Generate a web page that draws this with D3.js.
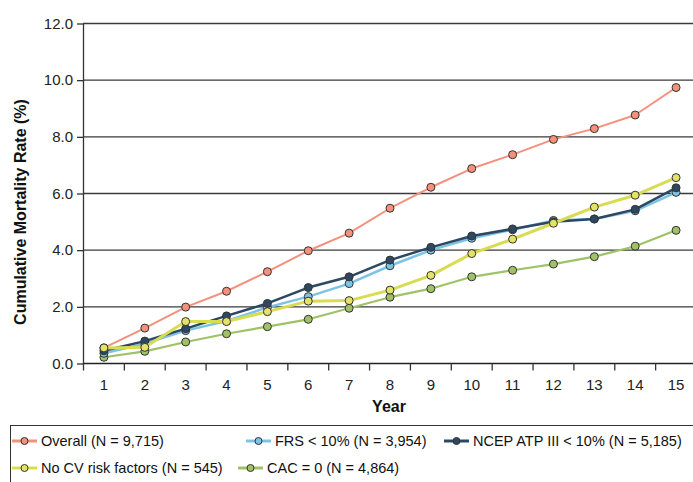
<!DOCTYPE html>
<html><head><meta charset="utf-8">
<script src="https://cdn.jsdelivr.net/npm/d3@7"></script>
<style>body{margin:0;background:#fff}svg{display:block;font-family:"Liberation Sans",Arial,sans-serif}</style>
</head><body><svg id="c" width="693" height="482"></svg>
<script>
const years = [1,2,3,4,5,6,7,8,9,10,11,12,13,14,15];
const yTicks = [0,2,4,6,8,10,12];
const overall = [0.55,1.25,1.99,2.55,3.24,3.98,4.6,5.48,6.22,6.88,7.37,7.91,8.29,8.77,9.74];
const frs = [0.36,0.7,1.16,1.5,1.98,2.36,2.82,3.45,4.0,4.42,4.72,5.05,5.1,5.39,6.04];
const ncep = [0.45,0.79,1.23,1.68,2.12,2.68,3.06,3.65,4.1,4.5,4.75,5.0,5.1,5.44,6.2];
const noCV = [0.55,0.57,1.48,1.48,1.83,2.2,2.22,2.59,3.11,3.88,4.39,4.95,5.52,5.94,6.56];
const cac0 = [0.22,0.43,0.76,1.05,1.3,1.56,1.95,2.34,2.64,3.06,3.29,3.51,3.77,4.14,4.7];
const seriesNames = ["Overall (N = 9,715)","FRS < 10% (N = 3,954)","NCEP ATP III < 10% (N = 5,185)","No CV risk factors (N = 545)","CAC = 0 (N = 4,864)"];

const series = [
  {name:seriesNames[0], values:overall, color:"#f4917c", w:2, fill:"#f4917c"},
  {name:seriesNames[4], values:cac0, color:"#9fc266", w:2.2, fill:"#9fc266"},
  {name:seriesNames[1], values:frs, color:"#7cc3e6", w:2.5, fill:"#7cc3e6"},
  {name:seriesNames[2], values:ncep, color:"#2c4862", w:2.5, fill:"#2c4862"},
  {name:seriesNames[3], values:noCV, color:"#d8dc52", w:3, fill:"#e3e36a"}
];

const svg = d3.select("#c");
const x = d3.scaleBand().domain(years).range([83.5, 696.5]);
const y = d3.scaleLinear().domain([0,12]).range([363.5, 23.5]);

// gridlines
svg.append("g").selectAll("line").data(yTicks.filter(d=>d>0)).join("line")
  .attr("x1",83).attr("x2",693).attr("y1",d=>y(d)).attr("y2",d=>y(d))
  .attr("stroke","#3a3a3a").attr("stroke-width",1.3);

// y axis
const ya = svg.append("g").attr("transform","translate(83,0)")
  .call(d3.axisLeft(y).tickValues(yTicks).tickFormat(d3.format(".1f")).tickSize(6).tickSizeOuter(0));
ya.select(".domain").attr("stroke","#333").attr("stroke-width",1.3);
ya.selectAll(".tick line").attr("stroke","#333").attr("stroke-width",1.3);
ya.selectAll("text").attr("font-size",15).attr("fill","#222").attr("x",-10).style("font-family","Liberation Sans, Arial, sans-serif");

// x axis
const xa = svg.append("g").attr("transform","translate(0,363.5)")
  .call(d3.axisBottom(x).tickSize(0));
xa.select(".domain").remove();
svg.append("line").attr("x1",83).attr("x2",693).attr("y1",363.5).attr("y2",363.5).attr("stroke","#222").attr("stroke-width",1.5);
svg.append("g").selectAll("line").data(years).join("line")
  .attr("x1",d=>x(d)).attr("x2",d=>x(d)).attr("y1",363.5).attr("y2",370.5)
  .attr("stroke","#333").attr("stroke-width",1.3);
xa.selectAll("text").attr("font-size",15).attr("fill","#222").attr("y",16).style("font-family","Liberation Sans, Arial, sans-serif");

// titles
svg.append("text").attr("x",389).attr("y",412).attr("text-anchor","middle")
  .attr("font-size",16).attr("font-weight","bold").attr("fill","#111").text("Year");
svg.append("text").attr("transform","translate(26,212) rotate(-90)").attr("text-anchor","middle")
  .attr("font-size",16).attr("font-weight","bold").attr("fill","#111").text("Cumulative Mortality Rate (%)");

// lines
const line = d3.line().x((d,i)=>x(years[i])+x.bandwidth()/2).y(d=>y(d));
series.forEach(s=>{
  const g = svg.append("g");
  g.append("path").attr("d",line(s.values)).attr("fill","none").attr("stroke",s.color).attr("stroke-width",s.w).attr("stroke-linejoin","round");
  g.selectAll("circle").data(s.values).join("circle")
    .attr("cx",(d,i)=>x(years[i])+x.bandwidth()/2).attr("cy",d=>y(d)).attr("r",4)
    .attr("fill",s.fill).attr("stroke","#333").attr("stroke-width",1);
});

// legend
svg.append("rect").attr("x",10.5).attr("y",425.5).attr("width",700).attr("height",80)
  .attr("fill","none").attr("stroke","#333").attr("stroke-width",1);
const legendItems = [
  {s:series[0], x:12, y:441},
  {s:series[2], x:246, y:441},
  {s:series[3], x:444, y:441},
  {s:series[4], x:12, y:468},
  {s:series[1], x:238, y:468}
];
legendItems.forEach(it=>{
  const g = svg.append("g");
  g.append("line").attr("x1",it.x).attr("x2",it.x+25).attr("y1",it.y).attr("y2",it.y).attr("stroke",it.s.color).attr("stroke-width",3);
  g.append("circle").attr("cx",it.x+12.5).attr("cy",it.y).attr("r",3.5).attr("fill",it.s.fill).attr("stroke","#333").attr("stroke-width",1);
  g.append("text").attr("x",it.x+29).attr("y",it.y+5).attr("font-size",14.5).attr("fill","#111").text(it.s.name);
});
</script></body></html>
